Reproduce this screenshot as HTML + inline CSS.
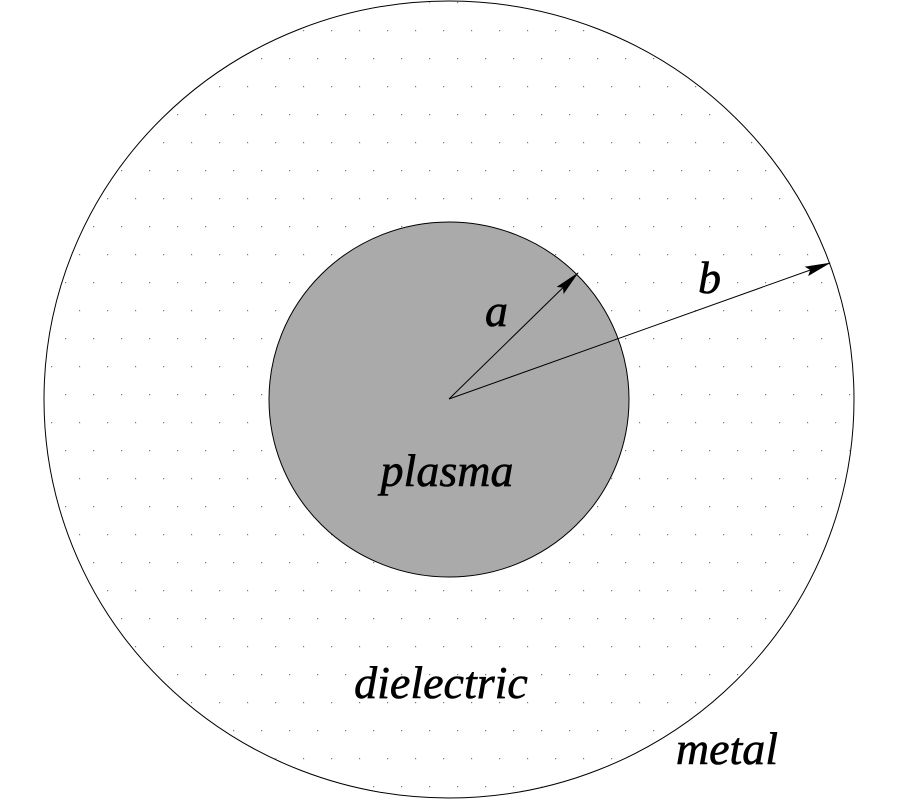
<!DOCTYPE html>
<html><head><style>html,body{margin:0;padding:0;background:#fff}
text{font-family:"Liberation Serif","Times New Roman",Times,"DejaVu Serif",serif;font-style:italic;font-size:46px;fill:#000;stroke:#000;stroke-width:0.6px}</style></head><body>
<svg width="900" height="800" viewBox="0 0 900 800" xmlns="http://www.w3.org/2000/svg">
<defs>
<pattern id="d" x="751" y="254" width="28" height="56" patternUnits="userSpaceOnUse">
<rect x="0" y="0" width="1.2" height="1.2" fill="#777"/>
<rect x="14" y="28" width="1.2" height="1.2" fill="#777"/>
</pattern>
<marker id="ah" markerWidth="26" markerHeight="10" refX="25" refY="5" orient="auto" markerUnits="userSpaceOnUse">
<path d="M0,0 L26,5 L0,10 L4,5 z" fill="#000"/>
</marker>
</defs>
<ellipse cx="449" cy="399.5" rx="405" ry="398.5" fill="#fff" stroke="#000" stroke-width="1"/>
<ellipse cx="449" cy="399.5" rx="404" ry="397.5" fill="url(#d)"/>
<ellipse cx="449" cy="399.5" rx="180" ry="177.5" fill="#aaaaaa" stroke="#000" stroke-width="1"/>
<line x1="449" y1="399" x2="578" y2="273" stroke="#000" stroke-width="1" marker-end="url(#ah)"/>
<line x1="449" y1="399" x2="830" y2="263" stroke="#000" stroke-width="1" marker-end="url(#ah)"/>
<text x="485" y="326">a</text>
<text x="698" y="293">b</text>
<text x="447" y="486" text-anchor="middle">plasma</text>
<text x="441" y="698" text-anchor="middle">dielectric</text>
<text x="727" y="764" text-anchor="middle">metal</text>
</svg>
</body></html>
